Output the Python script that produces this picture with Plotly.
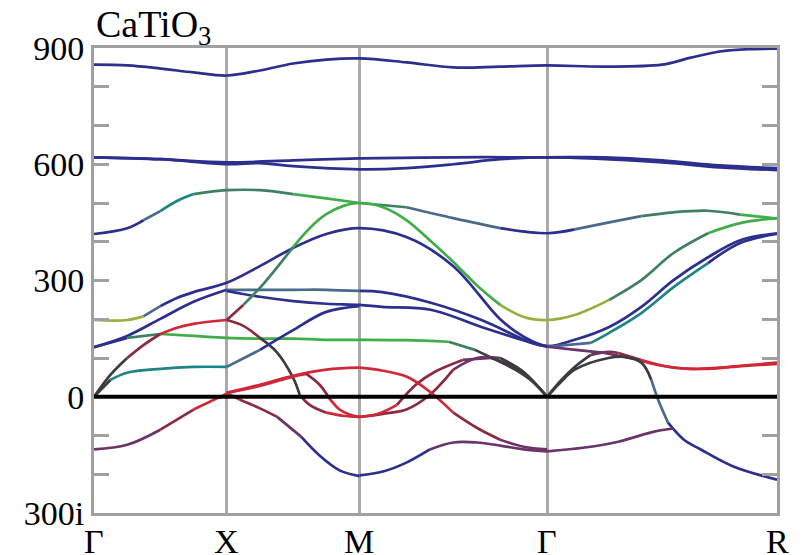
import numpy as np
import plotly.graph_objects as go

# ---- k-path ----
LABELS = ["Γ", "X", "M", "Γ", "R"]
Q_NODES = [0.0, 0.5, 1.0, 1.707, 2.573]   # path distance of high-symmetry points
S_NODES = [0, 1, 2, 3, 4]                  # segment index coordinates

# ---- colour key ----
PAL = {
    "b": "#2c2f8e",  # blue
    "g": "#3fae49",  # green
    "r": "#d02838",  # red
    "k": "#3c3c40",  # dark
    "t": "#1f8484",  # teal
    "p": "#6a3468",  # purple
    "m": "#8c2a40",  # maroon
    "y": "#95b03c",  # olive
    "s": "#4a6a8c",  # steel blue
    "n": "#3f7f62",  # grey-green
}

# ---- bands: (path coordinate s, frequency in cm^-1, colour per interval) ----
band_top = ([0, .25, .5, .75, 1, 1.25, 1.5, 1.75, 2, 2.25, 2.5, 2.75, 3, 3.25, 3.5, 3.625, 3.75, 3.875, 4],
            [857, 855, 847, 837, 829, 842, 860, 870, 873, 863, 850, 852, 855, 852, 857, 875, 891, 897, 898],
            "b" * 18)
band_u1 = ([0, .5, 1, 1.5, 2, 2.5, 3, 3.25, 3.5, 3.75, 4],
           [618, 613, 605, 610, 615, 618, 618, 618, 610, 597, 590],
           "b" * 10)
band_u2 = ([0, .5, 1, 1.25, 1.5, 2, 2.25, 2.5, 2.75, 3, 3.5, 3.75, 4],
           [618, 613, 600, 603, 595, 587, 590, 600, 613, 618, 605, 592, 585],
           "b" * 12)
band_b3 = ([0, .25, .375, .5, .625, .75, 1, 1.25, 1.5, 1.75, 2, 2.25, 2.5, 2.75, 3, 3.12, 3.27, 3.41, 3.55, 3.7, 3.84, 4],
           [420, 435, 456, 479, 505, 523, 533, 533, 523, 512, 500, 489, 461, 435, 422, 432, 450, 466, 476, 480, 470, 460],
           "bbsttn" + "nngg" + "nssb" + "bssnnng")
band_c = ([0, .25, .375, .5, .625, .75, 1, 1.25, 1.5, 1.75, 2, 2.25, 2.5, 2.75, 2.875, 3, 3.12, 3.27, 3.41, 3.55, 3.7, 3.84, 4],
          [198, 198, 208, 234, 255, 270, 294, 337, 384, 420, 435, 412, 337, 200, 155, 131, 147, 180, 232, 301, 360, 404, 422],
          "yysbbb" + "bbbb" + "bbbbb" + "bbbbbbb")
band_d = ([0, .25, .5, .75, 1, 1.25, 1.5, 1.75, 2, 2.12, 2.385, 2.65, 2.92, 3],
          [128, 157, 201, 245, 276, 276, 276, 276, 273, 270, 242, 198, 139, 130],
          "bbbb" + "ssss" + "bbbbb")
band_e = ([1, 1.25, 1.5, 1.75, 2, 2.12, 2.385, 2.65, 2.92, 3],
          [273, 258, 247, 240, 237, 232, 224, 180, 139, 129],
          "b" * 9)
band_lo = ([0, .25, .5, .75, 1, 1.25, 1.5, 1.75, 2, 2.25, 2.475, 2.615, 2.72, 2.83, 2.92, 3],
           [128, 152, 162, 157, 152, 150, 150, 147, 147, 146, 142, 121, 97, 70, 40, 0],
           "bngg" + "gggg" + "ggnkkkk")
band_la = ([0, .125, .25, .375, .5, .625, .75, 1, 1.125, 1.25, 1.375, 1.5, 1.55, 1.625, 1.75, 1.875, 2],
           [0, 57, 100, 134, 162, 178, 188, 198, 183, 152, 116, 49, 5, -21, -41, -49, -52],
           "kkmmrrr" + "mmkkkmmrr")
band_gx = ([1, 1.125, 1.25, 1.375, 1.5, 1.625, 1.75, 1.875, 2, 2.125, 2.25, 2.375, 2.5, 2.625, 2.75, 2.875, 3,
            3.12, 3.27, 3.41, 3.55, 3.7, 3.84, 4],
           [198, 237, 281, 332, 386, 435, 471, 492, 500, 489, 456, 404, 348, 288, 237, 206, 198,
            211, 250, 301, 371, 422, 448, 461],
           "mnnngggg" + "ggggggyy" + "yynnngg")
band_ta = ([0, .125, .25, .5, .75, 1, 1.25, 1.5, 1.75, 2],
           [0, 44, 62, 72, 77, 77, 121, 172, 219, 234],
           "ktttt" + "sbbb")
band_soft_gx = ([0, .25, .5, .75, 1],
                [-136, -124, -85, -33, 8],
                "ppmr")
band_xm_up = ([1, 1.25, 1.5, 1.75, 2],
              [10, 31, 54, 70, 75],
              "rrrr")
band_xm_down = ([1, 1.1, 1.25, 1.38, 1.56, 1.71, 1.85, 2],
                [10, -8, -30, -52, -103, -155, -190, -205],
                "rmmpbbb")
band_xm_loop = ([1, 1.25, 1.5, 1.6, 1.7, 1.775, 1.85, 1.925, 2],
                [10, 28, 52, 59, 31, -5, -33, -46, -52],
                "rrrmmrrr")
band_mg_p = ([2, 2.125, 2.25, 2.375, 2.5, 2.625, 2.75, 2.875, 3],
             [-52, -44, -33, 5, 70, 100, 100, 64, 0],
             "mmmmppkk")
band_mg_q = ([2, 2.1, 2.2, 2.3, 2.4, 2.55, 2.7, 2.85, 3],
             [-52, -44, -21, 31, 64, 95, 100, 70, 0],
             "rrmmmpkk")
band_mg_red = ([2, 2.125, 2.25, 2.375, 2.5, 2.625, 2.75, 2.875, 3],
               [75, 67, 52, 13, -41, -80, -111, -129, -136],
               "rrrrmmpp")
band_mg_deep = ([2, 2.125, 2.25, 2.375, 2.5, 2.625, 2.75, 2.875, 3],
                [-203, -193, -170, -136, -118, -118, -126, -136, -141],
                "bbbppppp")
band_gr_teal = ([3, 3.19, 3.27, 3.41, 3.55, 3.7, 3.84, 4],
                [129, 139, 165, 216, 283, 345, 397, 420],
                "sttttbb")
band_gr_red = ([3, 3.125, 3.25, 3.375, 3.5, 3.625, 3.75, 3.875, 4],
               [129, 121, 113, 98, 80, 72, 75, 80, 85],
               "ppmrrrrr")
band_gr_a1 = ([3, 3.06, 3.12, 3.19, 3.267, 3.31, 3.41, 3.55, 3.7, 3.84, 4],
              [0, 42, 77, 108, 116, 113, 95, 75, 72, 80, 88],
              "kkkppmrrrr")
band_gr_a2 = ([3, 3.06, 3.12, 3.267, 3.336, 3.41, 3.453, 3.483, 3.526, 3.595, 3.668, 3.81, 4],
              [0, 38, 70, 100, 103, 88, 44, -8, -67, -111, -136, -180, -214],
              "kkkkkkssbbbb")
band_gr_soft = ([3, 3.164, 3.31, 3.466, 3.55],
                [-141, -131, -116, -90, -82],
                "pppp")

BANDS = [band_top, band_u1, band_u2, band_b3, band_c, band_d, band_e, band_lo, band_la,
         band_gx, band_ta, band_soft_gx, band_xm_up, band_xm_down, band_xm_loop,
         band_mg_p, band_mg_q, band_mg_red, band_mg_deep, band_gr_teal, band_gr_red,
         band_gr_a1, band_gr_a2, band_gr_soft]

Y_TICKS = [-300, 0, 300, 600, 900]
Y_TEXT = ["300i", "0", "300", "600", "900"]

FONT = "Liberation Serif, Times New Roman, serif"
GREY = "#a0a0a0"

fig = go.Figure()
for s, f, cols in BANDS:
    s = np.asarray(s, float)
    f = np.asarray(f, float)
    q = np.interp(s, S_NODES, Q_NODES)
    i = 0
    n = len(cols)
    while i < n:
        j = i
        while j + 1 < n and cols[j + 1] == cols[i]:
            j += 1
        fig.add_trace(go.Scatter(
            x=q[i:j + 2], y=f[i:j + 2], mode="lines",
            line=dict(color=PAL[cols[i]], width=2.7, shape="spline", smoothing=1.0),
            hoverinfo="skip", showlegend=False))
        i = j + 1

# the page body adds an 8 px offset, so margins are compensated for it
fig.update_layout(
    width=802, height=555,
    margin=dict(l=86, r=33, t=40, b=50),
    paper_bgcolor="white", plot_bgcolor="white",
    showlegend=False,
    font=dict(family=FONT, size=34, color="black"),
)
fig.update_xaxes(
    range=[0, Q_NODES[-1]], tickvals=Q_NODES,
    showticklabels=False,
    showgrid=True, gridcolor="#aaaaaa", gridwidth=3,
    showline=True, mirror=True, linecolor=GREY, linewidth=3,
    ticks="", zeroline=False, automargin=False,
)
fig.update_yaxes(
    range=[-300, 900], tickvals=Y_TICKS, ticktext=Y_TEXT,
    ticks="inside", ticklen=15, tickwidth=3, tickcolor=GREY,
    minor=dict(dtick=100, tick0=0, ticks="inside", ticklen=15, tickwidth=3,
               tickcolor=GREY, showgrid=False),
    showline=True, mirror="ticks", linecolor=GREY, linewidth=3,
    showgrid=False, zeroline=False,
    tickfont=dict(size=34, family=FONT),
    automargin=False,
)
# zero-frequency reference line
fig.add_hline(y=0, line=dict(color="black", width=4), layer="above")

# high-symmetry point labels under the axis
for q, lab in zip(Q_NODES, LABELS):
    fig.add_annotation(
        text=lab, x=q, xref="x", y=0, yref="paper",
        xanchor="center", yanchor="top", showarrow=False,
        font=dict(size=34, family=FONT, color="black"), yshift=-8,
    )

fig.add_annotation(
    text="CaTiO<sub>3</sub>", xref="paper", yref="paper", x=0, y=1,
    xanchor="left", yanchor="bottom", showarrow=False,
    font=dict(size=38, family=FONT, color="black"), yshift=-5,
)

fig.write_html("out.html")
